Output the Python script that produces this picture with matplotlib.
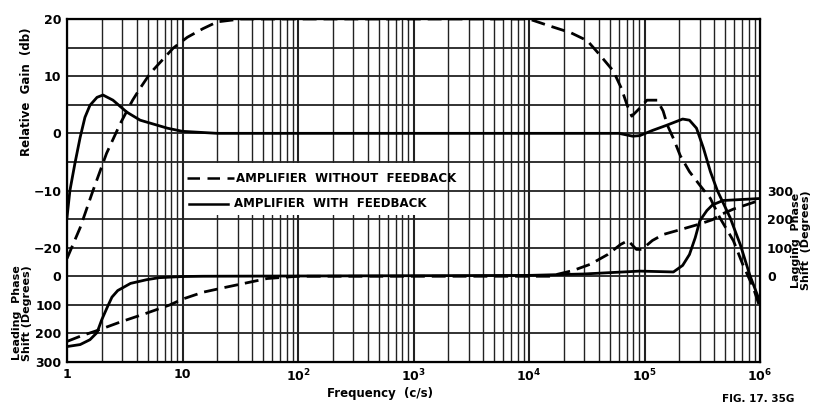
import matplotlib
matplotlib.use('Agg')
import matplotlib.pyplot as plt
import numpy as np
from matplotlib.patches import Rectangle

plt.rcParams['font.family'] = ['DejaVu Sans']
plt.rcParams['mathtext.fontset'] = 'dejavusans'

# gain curves (db)
f_gain_nofb = [1, 1.3, 1.68, 2.2, 2.9, 3.7, 4.3, 5.25, 8.3, 11, 15, 20, 32, 10000,
               15000, 23000, 32000, 40700, 53700, 63000, 70800, 77600, 91000,
               105000, 129000, 145000, 158000, 178000, 204000, 245000, 302000,
               372000, 447000, 589000, 708000, 871000, 1e6]
gain_nofb = [-21.9, -16.5, -10, -3.5, 1.75, 5.8, 7.9, 10.5, 14.9, 16.8, 18.3, 19.5, 20, 20,
             18.8, 17.6, 16.2, 13.8, 10.9, 7.9, 4.9, 3.0, 4.4,
             5.8, 5.8, 3.9, 1.4, -0.9, -3.9, -6.7, -9.1,
             -11.4, -14.7, -18.8, -22.9, -26.9, -30.5]

f_gain_fb = [1, 1.06, 1.17, 1.3, 1.43, 1.58, 1.82, 2.05, 2.5, 3.3, 4.3, 7.4, 10, 20,
             60000, 79000, 91000, 117000, 155000, 214000, 245000, 282000, 324000,
             372000, 427000, 550000, 676000, 813000, 1e6]
gain_fb = [-14.7, -10, -5.3, -0.7, 2.8, 4.9, 6.3, 6.7, 5.8, 3.7, 2.3, 0.9, 0.35, 0,
           0, -0.5, -0.4, 0.5, 1.4, 2.5, 2.3, 0.9, -2.6,
           -6.7, -10, -14.7, -19.5, -24.7, -29.5]

# phase curves (lagging degrees, negative = leading)
f_ph_nofb = [1, 1.3, 1.82, 2.9, 4.9, 7.8, 10, 15, 24, 38, 54, 100, 15000,
             24000, 34000, 48000, 62000, 72000, 85000, 95000, 117000, 145000,
             204000, 302000, 389000, 447000, 589000, 1e6]
ph_nofb = [-228, -210, -190, -160, -129, -100, -80, -56, -38, -21, -8, 0, 0,
           20, 42, 76, 111, 125, 94, 94, 125, 146,
           163, 183, 198, 214, 235, 266]

f_ph_fb = [1, 1.3, 1.58, 1.82, 2.0, 2.24, 2.45, 2.75, 3.55, 4.9, 6.3, 10, 15,
           10000, 30000, 91000, 178000, 214000, 245000, 275000, 302000, 347000,
           389000, 479000, 1e6]
ph_fb = [-246, -239, -222, -197, -152, -107, -73, -50, -25, -12, -5, -1, 0,
         3, 8, 18, 15, 38, 76, 135, 195, 230,
         250, 265, 272]

left_ticks = [20, 10, 0, -10, -20, -25, -30, -35, -40]
left_labels = ['20', '10', '0', '\u221210', '\u221220', '0', '100', '200', '300']
right_ticks = [-10, -15, -20, -25]
right_labels = ['300', '200', '100', '0']
x_ticks = [1, 10, 100, 1000, 1e4, 1e5, 1e6]
x_labels = ['1', '10', r'$\mathbf{10^2}$', r'$\mathbf{10^3}$', r'$\mathbf{10^4}$',
            r'$\mathbf{10^5}$', r'$\mathbf{10^6}$']


def phase_to_y(ph):
    # phase scale shares the gain grid: 0 deg at -25 db, 100 deg per 5 db
    return [-25 + p / 20.0 for p in ph]


W, H = 818, 405
fig = plt.figure(figsize=(W / 100, H / 100), dpi=100)
ax = fig.add_axes([67 / W, 1 - 362 / H, (760 - 67) / W, (362 - 19) / H])
ax.set_xscale('log')
ax.set_xlim(1, 1e6)
ax.set_ylim(-40, 20)

# grid drawn by hand
for dec in range(6):
    for m in range(1, 10):
        x = m * 10 ** dec
        if x <= 1 or x >= 1e6:
            continue
        ax.axvline(x, color='#222222', lw=1.5 if m == 1 else 1.0, zorder=1)
ax.add_patch(Rectangle((11.5, -14.2), 1800, 9.0, facecolor='white', edgecolor='none', zorder=1.5))
for y in np.arange(-35, 20, 5):
    ax.axhline(y, color='#222222', lw=1.3, zorder=2)

ax.plot(f_gain_nofb, gain_nofb, color='black', lw=2.0, ls=(0, (5, 2.5)), zorder=3)
ax.plot(f_gain_fb, gain_fb, color='black', lw=2.0, zorder=3)
ax.plot(f_ph_nofb, phase_to_y(ph_nofb), color='black', lw=2.0, ls=(0, (5, 2.5)), zorder=3)
ax.plot(f_ph_fb, phase_to_y(ph_fb), color='black', lw=2.0, zorder=3)

for s in ax.spines.values():
    s.set_linewidth(1.6)

ax.set_yticks(left_ticks)
ax.set_yticklabels(left_labels, fontweight='bold', fontsize=9)
ax.set_xticks(x_ticks)
ax.set_xticklabels(x_labels, fontweight='bold', fontsize=9)
ax.minorticks_off()
ax.tick_params(length=0, pad=4)

ax2 = ax.twinx()
ax2.set_ylim(-40, 20)
ax2.set_yticks(right_ticks)
ax2.set_yticklabels(right_labels, fontweight='bold', fontsize=9)
ax2.tick_params(length=0, pad=5)

# legend drawn inside the chart
ax.plot([11.0, 28.0], [-7.9, -7.9], color='black', lw=1.8, ls=(0, (5, 3)), zorder=3)
ax.text(29, -7.9, 'AMPLIFIER  WITHOUT  FEEDBACK', fontsize=8.5, fontweight='bold', va='center', zorder=4)
ax.plot([11.3, 25.0], [-12.3, -12.3], color='black', lw=1.8, zorder=3)
ax.text(28, -12.3, 'AMPLIFIER  WITH  FEEDBACK', fontsize=8.5, fontweight='bold', va='center', zorder=4)

fig.text(27 / W, 1 - 92 / H, 'Relative  Gain  (db)', rotation=90, ha='center', va='center',
         fontsize=8.5, fontweight='bold')
fig.text(22 / W, 1 - 313 / H, 'Leading  Phase\nShift (Degrees)', rotation=90, ha='center', va='center',
         fontsize=8, fontweight='bold', linespacing=1.0)
fig.text(801 / W, 1 - 240 / H, 'Lagging  Phase\nShift  (Degrees)', rotation=90, ha='center', va='center',
         fontsize=8, fontweight='bold', linespacing=1.0)
fig.text(380 / W, 1 - 393 / H, 'Frequency  (c/s)', ha='center', va='center', fontsize=8.5, fontweight='bold')
fig.text(758 / W, 1 - 404 / H, 'FIG. 17. 35G', ha='center', va='bottom', fontsize=7.5, fontweight='bold')

fig.savefig('out.png', dpi=100)
